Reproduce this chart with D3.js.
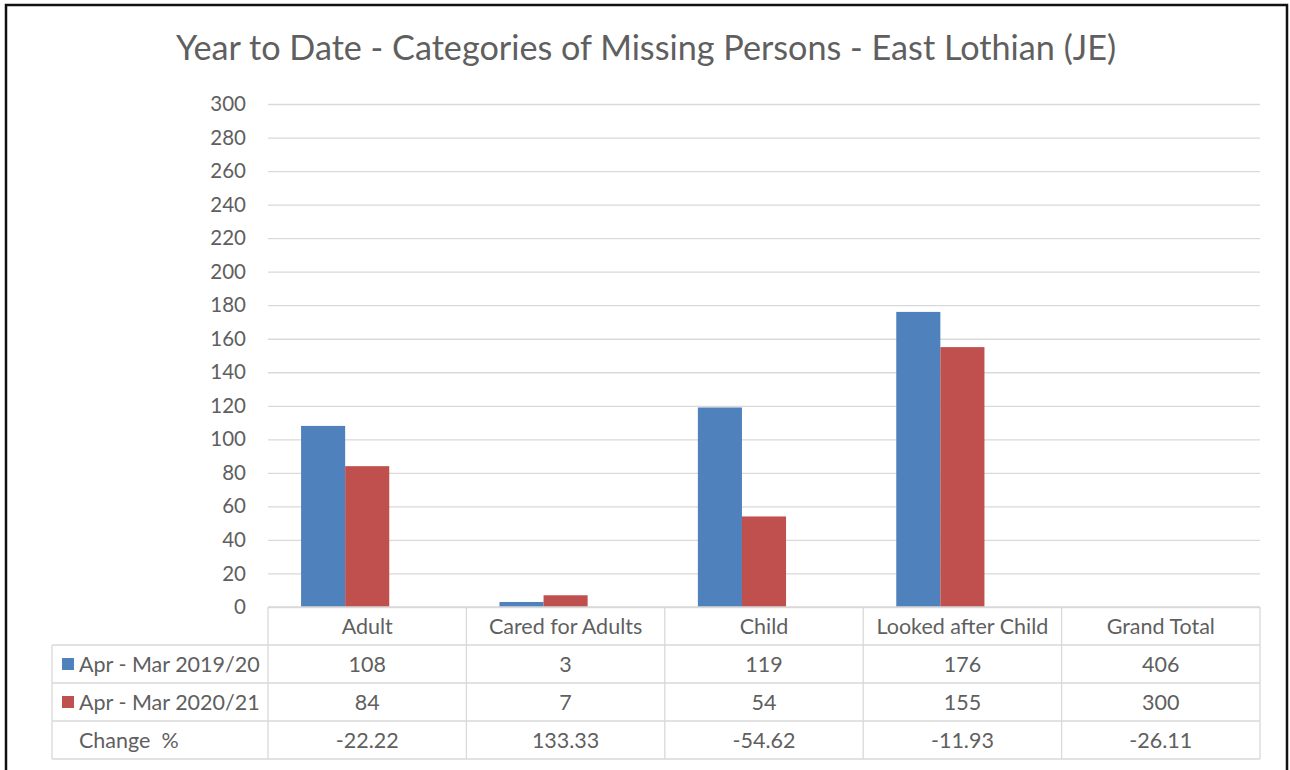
<!DOCTYPE html>
<html>
<head>
<meta charset="utf-8">
<script src="https://cdn.jsdelivr.net/npm/d3@7"></script>
<style>
  html, body { margin: 0; padding: 0; background: #fff; }
  svg { display: block; font-family: Lato, "Open Sans", sans-serif; }
</style>
</head>
<body>
<div id="chart"></div>
<script>
const categories = ['Adult', 'Cared for Adults', 'Child', 'Looked after Child', 'Grand Total'];
const barCategories = ['Adult', 'Cared for Adults', 'Child', 'Looked after Child'];
const seriesNames = ['Apr - Mar 2019/20', 'Apr - Mar 2020/21', 'Change  %'];
const values2019 = [108, 3, 119, 176, 406];
const values2020 = [84, 7, 54, 155, 300];
const changePct = ['-22.22', '133.33', '-54.62', '-11.93', '-26.11'];
const yTicks = [0, 20, 40, 60, 80, 100, 120, 140, 160, 180, 200, 220, 240, 260, 280, 300];
const colors = ['#4f81bd', '#c0504d'];

const width = 1290;
const height = 770;
const plotLeft = 268, plotRight = 1260, plotTop = 104, plotBase = 607;
const rowH = 38;
const textColor = '#5f5f5f';
const lineColor = '#d9d9d9';

const svg = d3.select('#chart').append('svg')
  .attr('width', width)
  .attr('height', height);

// outer frame (no bottom edge in the picture)
svg.append('path')
  .attr('d', `M6,${height} V5 H1287 V${height}`)
  .attr('fill', 'none')
  .attr('stroke', '#111')
  .attr('stroke-width', 2.5);

svg.append('text')
  .attr('x', 646)
  .attr('y', 60)
  .attr('text-anchor', 'middle')
  .attr('font-size', 34.2)
  .attr('fill', textColor)
  .text('Year to Date - Categories of Missing Persons - East Lothian (JE)');

const x = d3.scaleBand()
  .domain(categories)
  .range([plotLeft, plotRight]);

// three slots per category (the change % series has no visible bar)
const xSeries = d3.scaleBand()
  .domain(seriesNames)
  .range([0, x.bandwidth()])
  .paddingInner(0)
  .paddingOuter(0.75);

const y = d3.scaleLinear()
  .domain([0, 300])
  .range([plotBase, plotTop]);

// gridlines + labels
const yAxis = d3.axisLeft(y)
  .tickValues(yTicks)
  .tickSize(-(plotRight - plotLeft))
  .tickPadding(22);

const gy = svg.append('g')
  .attr('transform', `translate(${plotLeft},0)`)
  .call(yAxis);
gy.select('.domain').remove();
gy.selectAll('.tick line').attr('stroke', lineColor).attr('stroke-width', 1.3);
gy.selectAll('.tick text')
  .attr('fill', textColor)
  .attr('font-size', 20.5)
  .attr('font-family', 'Lato, sans-serif');

// bars
const series = [values2019, values2020];
series.forEach((vals, si) => {
  svg.append('g').selectAll('rect')
    .data(barCategories.map((c, i) => ({ c, v: vals[i] })))
    .join('rect')
    .attr('x', d => x(d.c) + xSeries(seriesNames[si]))
    .attr('y', d => y(d.v))
    .attr('width', xSeries.bandwidth())
    .attr('height', d => y(0) - y(d.v))
    .attr('fill', colors[si]);
});

// data table
const table = svg.append('g');
const tableLeft = 52;
const rowTops = [0, 1, 2, 3, 4].map(i => plotBase + i * rowH);

// horizontal lines
table.append('line')
  .attr('x1', plotLeft).attr('x2', plotRight)
  .attr('y1', rowTops[0]).attr('y2', rowTops[0]);
rowTops.slice(1).forEach(yy => {
  table.append('line')
    .attr('x1', tableLeft).attr('x2', plotRight)
    .attr('y1', yy).attr('y2', yy);
});
// vertical lines
table.append('line')
  .attr('x1', tableLeft).attr('x2', tableLeft)
  .attr('y1', rowTops[1]).attr('y2', rowTops[4]);
categories.forEach(c => {
  table.append('line')
    .attr('x1', x(c)).attr('x2', x(c))
    .attr('y1', rowTops[0]).attr('y2', rowTops[4]);
});
table.append('line')
  .attr('x1', plotRight).attr('x2', plotRight)
  .attr('y1', rowTops[0]).attr('y2', rowTops[4]);
table.selectAll('line').attr('stroke', lineColor).attr('stroke-width', 1.3);

const cellText = (tx, ty, s, anchor) => table.append('text')
  .attr('x', tx)
  .attr('y', ty + rowH / 2 + 8)
  .attr('text-anchor', anchor || 'middle')
  .attr('font-size', 21.5)
  .attr('fill', textColor)
  .style('white-space', 'pre')
  .text(s);

categories.forEach((c, i) => {
  const cx = x(c) + x.bandwidth() / 2;
  cellText(cx, rowTops[0], c);
  cellText(cx, rowTops[1], values2019[i]);
  cellText(cx, rowTops[2], values2020[i]);
  cellText(cx, rowTops[3], changePct[i]);
});

seriesNames.forEach((s, i) => {
  if (i < 2) {
    table.append('rect')
      .attr('x', 62)
      .attr('y', rowTops[i + 1] + rowH / 2 - 6)
      .attr('width', 12)
      .attr('height', 12)
      .attr('fill', colors[i]);
  }
  cellText(79, rowTops[i + 1], s, 'start');
});
</script>
</body>
</html>
